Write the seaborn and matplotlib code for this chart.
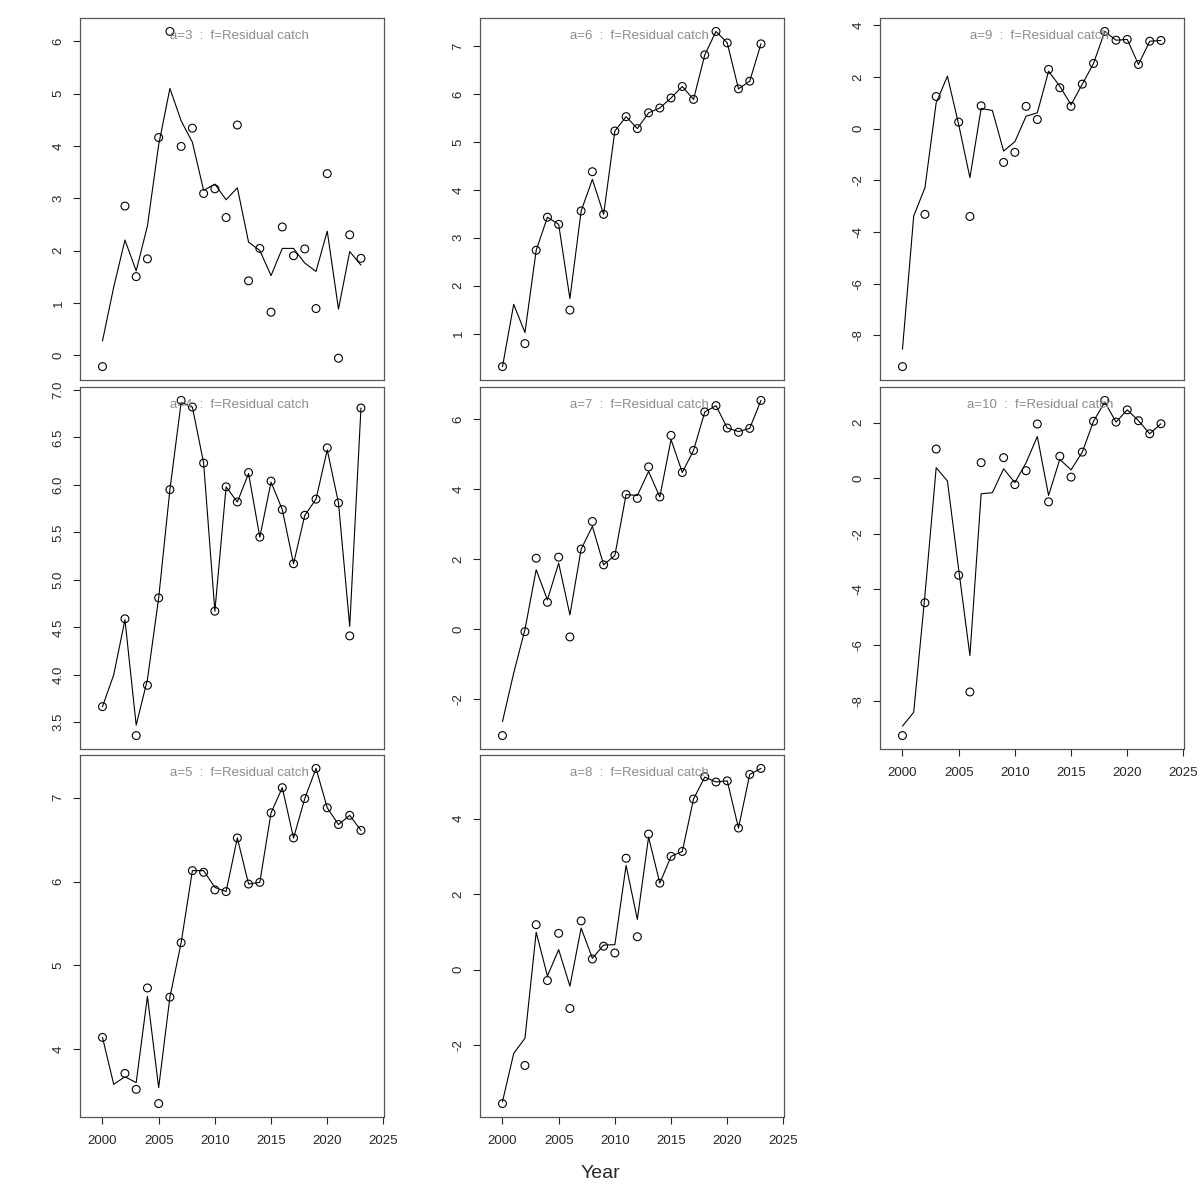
import matplotlib
matplotlib.use('Agg')
import pandas as pd
import matplotlib.pyplot as plt
import seaborn as sns
from matplotlib.ticker import MultipleLocator

sns.set_style('ticks')
plt.rcParams['font.family'] = ['Liberation Sans', 'DejaVu Sans']
plt.rcParams['axes.unicode_minus'] = False

years = list(range(2000, 2024))
ages = [3, 4, 5, 6, 7, 8, 9, 10]
N = None

# observed residual catch (points), None = no observation
obs_a3 = [-0.22, N, 2.85, 1.50, 1.84, 4.16, 6.19, 3.99, 4.34, 3.09, 3.18, 2.63,
          4.40, 1.42, 2.04, 0.82, 2.45, 1.90, 2.03, 0.89, 3.47, -0.06, 2.30, 1.85]
obs_a4 = [3.665, N, 4.59, 3.36, 3.89, 4.81, 5.95, 6.89, 6.82, 6.23, 4.67, 5.98,
          5.82, 6.13, 5.45, 6.04, 5.74, 5.17, 5.68, 5.85, 6.39, 5.81, 4.41, 6.81]
obs_a5 = [4.14, N, 3.71, 3.52, 4.73, 3.35, 4.62, 5.27, 6.13, 6.11, 5.90, 5.88,
          6.52, 5.97, 5.99, 6.82, 7.12, 6.52, 6.99, 7.35, 6.88, 6.68, 6.79, 6.61]
obs_a6 = [0.31, N, 0.79, 2.74, 3.43, 3.28, 1.49, 3.56, 4.38, 3.49, 5.23, 5.53,
          5.28, 5.61, 5.71, 5.92, 6.16, 5.89, 6.82, 7.31, 7.07, 6.11, 6.27, 7.05]
obs_a7 = [-3.05, N, -0.08, 2.02, 0.76, 2.05, -0.23, 2.28, 3.07, 1.83, 2.10, 3.84,
          3.73, 4.63, 3.77, 5.53, 4.47, 5.10, 6.20, 6.38, 5.74, 5.62, 5.73, 6.53]
obs_a8 = [-3.55, N, -2.54, 1.19, -0.29, 0.96, -1.03, 1.29, 0.28, 0.62, 0.44, 2.95,
          0.87, 3.59, 2.29, 3.00, 3.13, 4.52, 5.11, 4.97, 5.00, 3.75, 5.17, 5.33]
obs_a9 = [-9.21, N, -3.32, 1.24, N, 0.25, -3.40, 0.88, N, -1.31, -0.92, 0.86,
          0.35, 2.29, 1.58, 0.86, 1.72, 2.52, 3.76, 3.42, 3.45, 2.48, 3.38, 3.41]
obs_a10 = [-9.26, N, -4.48, 1.05, N, -3.49, -7.69, 0.56, N, 0.74, -0.23, 0.27,
           1.95, -0.85, 0.79, 0.04, 0.94, 2.05, 2.80, 2.02, 2.46, 2.07, 1.60, 1.96]

# fitted residual catch (line)
fit_a3 = [0.27, 1.30, 2.20, 1.61, 2.47, 4.02, 5.10, 4.48, 4.07, 3.15, 3.27, 2.97,
          3.20, 2.16, 2.00, 1.52, 2.04, 2.04, 1.76, 1.60, 2.37, 0.88, 1.98, 1.72]
fit_a4 = [3.665, 4.00, 4.58, 3.47, 3.95, 4.81, 5.95, 6.87, 6.82, 6.23, 4.67, 5.98,
          5.82, 6.12, 5.45, 6.03, 5.74, 5.17, 5.68, 5.85, 6.37, 5.81, 4.51, 6.81]
fit_a5 = [4.14, 3.58, 3.67, 3.60, 4.63, 3.54, 4.62, 5.27, 6.13, 6.13, 5.93, 5.88,
          6.52, 5.97, 5.99, 6.82, 7.12, 6.52, 6.99, 7.35, 6.88, 6.68, 6.79, 6.61]
fit_a6 = [0.31, 1.61, 1.02, 2.74, 3.43, 3.28, 1.73, 3.56, 4.22, 3.49, 5.23, 5.53,
          5.28, 5.61, 5.71, 5.92, 6.16, 5.89, 6.82, 7.31, 7.07, 6.11, 6.27, 7.05]
fit_a7 = [-2.65, -1.26, -0.02, 1.69, 0.83, 1.88, 0.40, 2.28, 2.93, 1.83, 2.10, 3.84,
          3.81, 4.50, 3.77, 5.41, 4.47, 5.10, 6.20, 6.38, 5.74, 5.64, 5.73, 6.53]
fit_a8 = [-3.50, -2.22, -1.82, 0.99, -0.17, 0.53, -0.44, 1.10, 0.30, 0.65, 0.66, 2.76,
          1.33, 3.51, 2.29, 3.00, 3.13, 4.52, 5.10, 4.97, 5.00, 3.75, 5.17, 5.33]
fit_a9 = [-8.54, -3.38, -2.29, 1.00, 2.03, 0.16, -1.90, 0.78, 0.70, -0.87, -0.51, 0.48,
          0.61, 2.22, 1.64, 0.92, 1.72, 2.52, 3.76, 3.42, 3.45, 2.48, 3.38, 3.41]
fit_a10 = [-8.92, -8.42, -4.20, 0.38, -0.10, -3.28, -6.38, -0.56, -0.52, 0.34, -0.16, 0.56,
           1.50, -0.62, 0.68, 0.30, 0.94, 2.05, 2.74, 2.02, 2.46, 2.07, 1.60, 1.96]

obs = [obs_a3, obs_a4, obs_a5, obs_a6, obs_a7, obs_a8, obs_a9, obs_a10]
fit = [fit_a3, fit_a4, fit_a5, fit_a6, fit_a7, fit_a8, fit_a9, fit_a10]
ytick_step = [1, 0.5, 1, 1, 2, 2, 2, 2]

fig = plt.figure(figsize=(12, 12), dpi=100)
lefts = [80 / 1200, 480 / 1200, 880 / 1200]
bottoms = [1 - 380 / 1200, 1 - 749 / 1200, 1 - 1117 / 1200]
w, h = 304 / 1200, 362 / 1200

for i, age in enumerate(ages):
    col, row = i // 3, i % 3
    ax = fig.add_axes([lefts[col], bottoms[row], w, h])
    df = pd.DataFrame({'year': years, 'obs': obs[i], 'fit': fit[i]}, dtype=float)

    sns.lineplot(data=df, x='year', y='fit', color='black', lw=0.8, ax=ax)
    sns.scatterplot(data=df, x='year', y='obs', s=32, color='black', linewidth=0.8, ax=ax)
    ax.collections[-1].set_facecolor('none')
    ax.collections[-1].set_edgecolor('black')

    ax.set_xlim(1998, 2025.05)
    ax.margins(y=0.04)
    ax.set_xlabel('')
    ax.set_ylabel('')
    ax.xaxis.set_major_locator(MultipleLocator(5))
    ax.yaxis.set_major_locator(MultipleLocator(ytick_step[i]))

    for s in ax.spines.values():
        s.set_visible(True)
        s.set_color('#555555')
        s.set_linewidth(0.9)

    ax.tick_params(axis='y', left=True, direction='out', length=5, width=0.8,
                   labelsize=9.5, pad=6, labelrotation=90)
    for lbl in ax.get_yticklabels():
        lbl.set_va('center')
    show_x = (row == 2) or (age == 10)
    ax.tick_params(axis='x', bottom=show_x, labelbottom=show_x, direction='out',
                   length=5, width=0.8, labelsize=9.5, pad=8)

    ax.text(0.526, 0.95, f'a={age}  :  f=Residual catch', transform=ax.transAxes,
            ha='center', va='center', color='#8c8c8c', fontsize=9.5)

fig.text(0.5, 1 - 1173 / 1200, 'Year', ha='center', va='center', fontsize=14)
fig.savefig('out.png', dpi=100, facecolor='white')
